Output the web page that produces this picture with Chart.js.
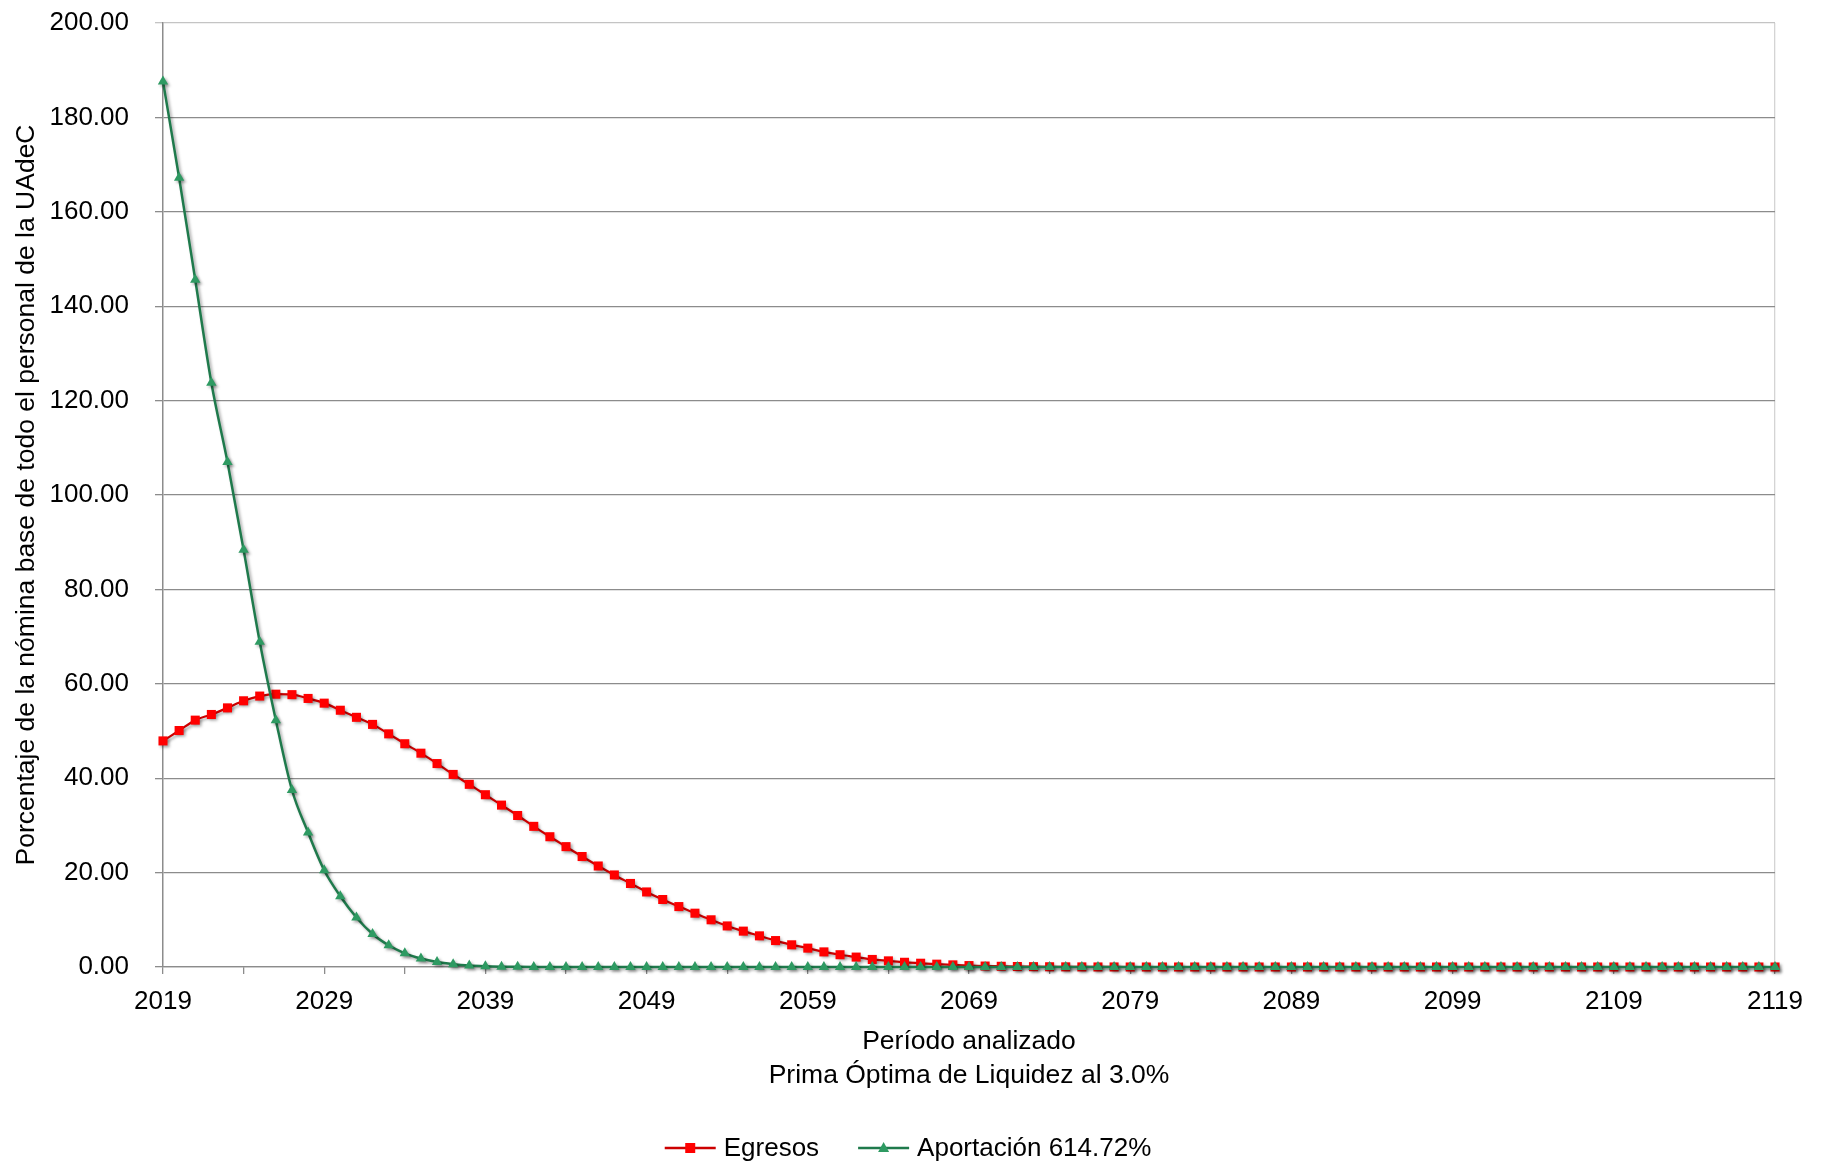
<!DOCTYPE html>
<html>
<head>
<meta charset="utf-8">
<script src="https://cdn.jsdelivr.net/npm/chart.js@4.4.1/dist/chart.umd.min.js"></script>
<style>
  html, body { margin: 0; padding: 0; background: #fff; }
</style>
</head>
<body>
<canvas id="grafica" width="1829" height="1163"></canvas>
<script>
// categorias: un año por punto
const anios = [];
for (let a = 2019; a <= 2119; a++) anios.push(String(a));

const egresos = [
  47.9, 50.1, 52.3, 53.5, 54.9, 56.4, 57.4, 57.8, 57.7, 56.9,
  55.9, 54.4, 52.9, 51.4, 49.4, 47.3, 45.3, 43.1, 40.8, 38.7,
  36.5, 34.3, 32.1, 29.8, 27.6, 25.5, 23.4, 21.4, 19.5, 17.7,
  15.9, 14.3, 12.8, 11.4, 10.0, 8.7, 7.6, 6.6, 5.6, 4.7,
  4.0, 3.2, 2.6, 2.1, 1.6, 1.3, 1.0, 0.8, 0.6, 0.45,
  0.3, 0.2, 0.15, 0.1, 0.07, 0.05, 0.03, 0.02, 0.01, 0.01,
  0, 0, 0, 0, 0, 0, 0, 0, 0, 0,
  0, 0, 0, 0, 0, 0, 0, 0, 0, 0,
  0, 0, 0, 0, 0, 0, 0, 0, 0, 0,
  0, 0, 0, 0, 0, 0, 0, 0, 0, 0,
  0
];

const aportacion = [
  187.6, 167.2, 145.6, 123.8, 107.0, 88.4, 68.9, 52.3, 37.5, 28.5,
  20.5, 15.0, 10.5, 7.0, 4.6, 2.9, 1.8, 1.06, 0.6, 0.3,
  0.15, 0.07, 0.03, 0.01, 0, 0, 0, 0, 0, 0,
  0, 0, 0, 0, 0, 0, 0, 0, 0, 0,
  0, 0, 0, 0, 0, 0, 0, 0, 0, 0,
  0, 0, 0, 0, 0, 0, 0, 0, 0, 0,
  0, 0, 0, 0, 0, 0, 0, 0, 0, 0,
  0, 0, 0, 0, 0, 0, 0, 0, 0, 0,
  0, 0, 0, 0, 0, 0, 0, 0, 0, 0,
  0, 0, 0, 0, 0, 0, 0, 0, 0, 0,
  0
];

const yTicks = [0, 20, 40, 60, 80, 100, 120, 140, 160, 180, 200];

const fuente = '"Liberation Sans", Arial, sans-serif';
Chart.defaults.font.family = fuente;
Chart.defaults.color = '#000';

// sombra suave como en excel
const sombra = {
  id: 'sombra',
  beforeDatasetsDraw(chart) {
    const ctx = chart.ctx;
    ctx.save();
    ctx.shadowColor = 'rgba(0,0,0,0.35)';
    ctx.shadowBlur = 3;
    ctx.shadowOffsetX = 2;
    ctx.shadowOffsetY = 2;
  },
  afterDatasetsDraw(chart) {
    chart.ctx.restore();
  }
};

// leyenda con linea + marcador
const leyenda = {
  id: 'leyenda',
  afterDraw(chart) {
    const ctx = chart.ctx;
    const sets = [chart.data.datasets[0], chart.data.datasets[1]];
    ctx.save();
    ctx.font = '26px ' + fuente;
    ctx.textBaseline = 'middle';
    const lineW = 51, gapText = 8, gapItem = 39;
    const widths = sets.map(d => lineW + gapText + ctx.measureText(d.label).width);
    const total = widths[0] + gapItem + widths[1];
    let x = 908 - total / 2;
    const y = 1148;
    sets.forEach((d, i) => {
      ctx.strokeStyle = d.borderColor;
      ctx.lineWidth = 2.5;
      ctx.beginPath();
      ctx.moveTo(x, y);
      ctx.lineTo(x + lineW, y);
      ctx.stroke();
      const cx = x + lineW / 2;
      ctx.fillStyle = d.pointBackgroundColor;
      ctx.beginPath();
      if (d.pointStyle === 'rect') {
        ctx.rect(cx - 5, y - 5, 10, 10);
      } else {
        ctx.moveTo(cx, y - 6);
        ctx.lineTo(cx + 5.5, y + 4);
        ctx.lineTo(cx - 5.5, y + 4);
        ctx.closePath();
      }
      ctx.fill();
      ctx.fillStyle = '#000';
      ctx.fillText(d.label, x + lineW + gapText, y + 1);
      x += widths[i] + gapItem;
    });
    ctx.restore();
  }
};

new Chart(document.getElementById('grafica'), {
  type: 'line',
  data: {
    labels: anios,
    datasets: [
      {
        label: 'Egresos',
        data: egresos,
        borderColor: '#cc0000',
        borderWidth: 2.2,
        pointStyle: 'rect',
        pointRadius: 6.4,
        pointBackgroundColor: '#ff0000',
        pointBorderColor: '#ff0000',
        pointBorderWidth: 0,
        cubicInterpolationMode: 'monotone',
        clip: false,
        order: 1
      },
      {
        label: 'Aportación 614.72%',
        data: aportacion,
        borderColor: '#1f7a4c',
        borderWidth: 2.5,
        pointStyle: 'triangle',
        pointRadius: 6,
        pointBackgroundColor: '#2e9a62',
        pointBorderColor: '#2e9a62',
        pointBorderWidth: 0,
        cubicInterpolationMode: 'monotone',
        clip: false,
        order: 0
      }
    ]
  },
  options: {
    responsive: false,
    animation: false,
    layout: { padding: { left: 0, right: 54, top: 23, bottom: 60 } },
    plugins: {
      legend: { display: false },
      tooltip: { enabled: false }
    },
    scales: {
      x: {
        type: 'category',
        afterFit: s => { s.height = 136; },
        grid: {
          drawOnChartArea: true,
          color: c => c.index === anios.length - 1 ? '#d4d4d4' : 'rgba(0,0,0,0)',
          tickColor: c => c.index % 5 === 0 ? '#8c8c8c' : 'rgba(0,0,0,0)',
          tickLength: 7,
          lineWidth: 1.3
        },
        border: { color: '#8c8c8c', width: 1.3 },
        ticks: {
          autoSkip: false,
          maxRotation: 0,
          padding: 12,
          font: { size: 26 },
          callback: function (v, i) { return i % 10 === 0 ? this.getLabelForValue(v) : ''; }
        },
        title: {
          display: true,
          text: ['Período analizado', 'Prima Óptima de Liquidez al 3.0%'],
          font: { size: 26.5, lineHeight: 1.26 },
          padding: { top: 6, bottom: 11 }
        }
      },
      y: {
        min: 0,
        max: 200,
        afterFit: s => { s.width = 163; s.paddingTop = 0; s.paddingBottom = 0; },
        afterBuildTicks: s => { s.ticks = yTicks.map(v => ({ value: v })); },
        grid: {
          color: c => c.tick && c.tick.value === 200 ? '#c4c4c4' : '#8c8c8c',
          tickLength: 8,
          lineWidth: 1.3
        },
        border: { color: '#8c8c8c', width: 1.5 },
        ticks: {
          padding: 26,
          font: { size: 26 },
          callback: v => v.toFixed(2)
        },
        title: {
          display: true,
          text: 'Porcentaje de la nómina base de todo el personal de la UAdeC',
          font: { size: 26.5 },
          padding: { top: 11, bottom: 0 }
        }
      }
    }
  },
  plugins: [sombra, leyenda]
});
</script>
</body>
</html>
